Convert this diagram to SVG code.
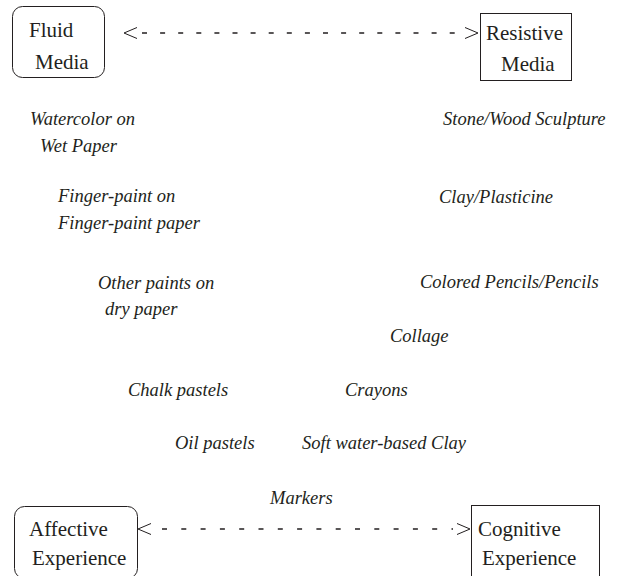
<svg xmlns="http://www.w3.org/2000/svg" width="622" height="576" viewBox="0 0 622 576">
<style>
  .box { fill: none; stroke: #231f20; stroke-width: 1; }
  .bt { font-family: "Liberation Serif", "Times New Roman", serif; font-size: 21px; fill: #231f20; }
  .lb { font-family: "Liberation Serif", "Times New Roman", serif; font-size: 18.5px; font-style: italic; fill: #231f20; }
  .dash { stroke: #231f20; stroke-width: 1.3; fill: none; }
  .chev { stroke: #231f20; stroke-width: 1; fill: none; }
</style>
<rect width="622" height="576" fill="#ffffff"/>
<g id="connectors">
  <g id="media-axis">
    <polyline class="chev" points="137,27.5 124,33 137,38.5"/>
    <line class="dash" x1="142" y1="33" x2="456" y2="33" stroke-dasharray="5 13.1"/>
    <polyline class="chev" points="465,27.5 478,33 465,38.5"/>
  </g>
  <g id="experience-axis">
    <polyline class="chev" points="151,523.5 138,529 151,534.5"/>
    <line class="dash" x1="162" y1="529" x2="453" y2="529" stroke-dasharray="5 14.3"/>
    <polyline class="chev" points="457,523.5 470,529 457,534.5"/>
  </g>
</g>
<g id="fluid-media">
  <rect class="box" x="12.5" y="6.5" width="92" height="71" rx="10" ry="10"/>
  <text class="bt" x="29" y="37">Fluid</text>
  <text class="bt" x="35" y="69">Media</text>
</g>
<g id="resistive-media">
  <rect class="box" x="480.5" y="13.5" width="91" height="67"/>
  <text class="bt" x="486" y="40">Resistive</text>
  <text class="bt" x="501" y="71">Media</text>
</g>
<g id="affective-experience">
  <rect class="box" x="14.5" y="506.5" width="123" height="72" rx="10" ry="10"/>
  <text class="bt" x="29" y="536">Affective</text>
  <text class="bt" x="32" y="565">Experience</text>
</g>
<g id="cognitive-experience">
  <rect class="box" x="471.5" y="505.5" width="128" height="75"/>
  <text class="bt" x="478" y="536">Cognitive</text>
  <text class="bt" x="482" y="565">Experience</text>
</g>
<g id="labels">
  <g id="watercolor"><text class="lb" x="30" y="125">Watercolor on</text><text class="lb" x="40" y="152">Wet Paper</text></g>
  <g id="stone-wood"><text class="lb" x="443" y="125">Stone/Wood Sculpture</text></g>
  <g id="finger-paint"><text class="lb" x="58" y="202">Finger-paint on</text><text class="lb" x="58" y="229">Finger-paint paper</text></g>
  <g id="clay-plasticine"><text class="lb" x="439" y="203">Clay/Plasticine</text></g>
  <g id="other-paints"><text class="lb" x="98" y="289">Other paints on</text><text class="lb" x="105" y="315">dry paper</text></g>
  <g id="colored-pencils"><text class="lb" x="420" y="288">Colored Pencils/Pencils</text></g>
  <g id="collage"><text class="lb" x="390" y="342">Collage</text></g>
  <g id="chalk-pastels"><text class="lb" x="128" y="396">Chalk pastels</text></g>
  <g id="crayons"><text class="lb" x="345" y="396">Crayons</text></g>
  <g id="oil-pastels"><text class="lb" x="175" y="449">Oil pastels</text></g>
  <g id="soft-clay"><text class="lb" x="302" y="449">Soft water-based Clay</text></g>
  <g id="markers"><text class="lb" x="270" y="504">Markers</text></g>
</g>
</svg>
